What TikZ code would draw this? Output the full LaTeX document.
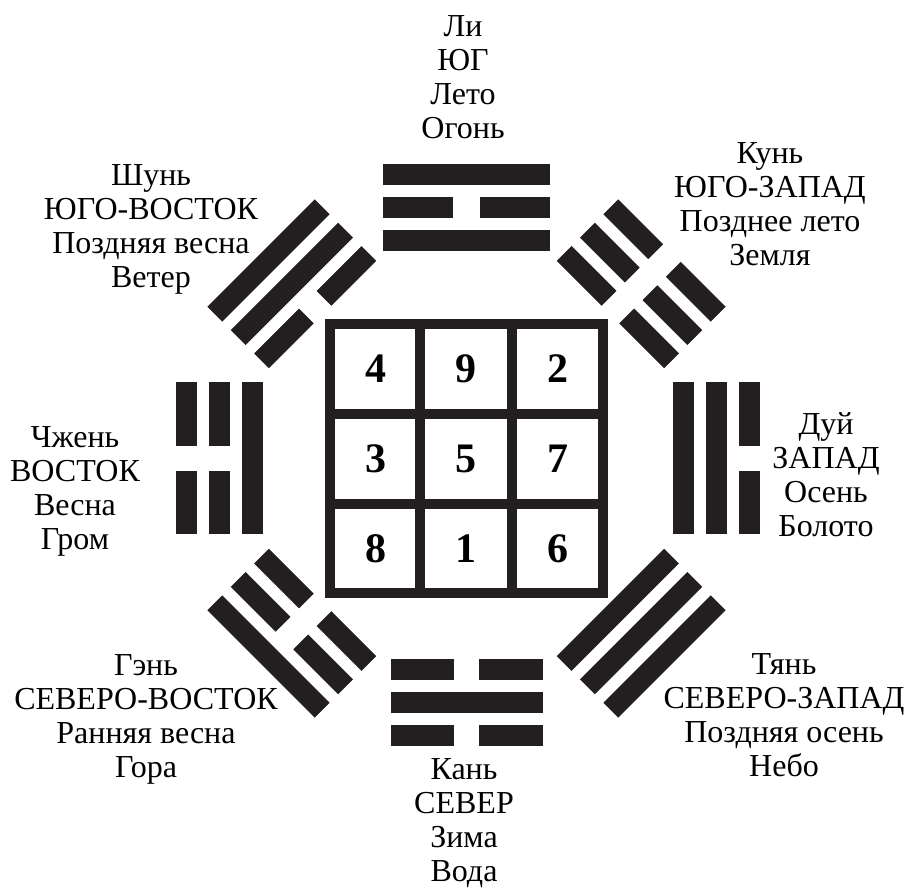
\documentclass[tikz,border=0pt]{standalone}
\usepackage{fontspec}
\setmainfont{Liberation Serif}
\usepackage{tikz}
\definecolor{ink}{HTML}{231F20}

% one trigram: angle, inner radius, length, gap, lines from inside out (1 solid, 0 broken)
\newcommand{\gua}[5]{%
\begin{scope}[shift={(466.5,435.5)},rotate=#1]
\foreach \bit [count=\idx from 0] in {#5}{
  \pgfmathsetmacro{\rad}{#2+33*\idx}
  \ifnum\bit=1
    \fill[ink] (-#3/2,\rad-10.5) rectangle (#3/2,\rad+10.5);
  \else
    \fill[ink] (-#3/2,\rad-10.5) rectangle (-#4/2,\rad+10.5);
    \fill[ink] (#4/2,\rad-10.5) rectangle (#3/2,\rad+10.5);
  \fi
}
\end{scope}}

\begin{document}
\begin{tikzpicture}[x=1pt,y=1pt,
  label/.style={align=center,anchor=base,inner sep=0pt,font=\fontsize{32}{34}\selectfont},
  digit/.style={inner sep=0pt,font=\fontsize{42}{42}\selectfont\bfseries}]
\useasboundingbox (0,0) rectangle (905,894);

% lo shu square
\draw[ink,line width=10pt] (330,301) rectangle (603,570);
\draw[ink,line width=10pt] (420,301) -- (420,570);
\draw[ink,line width=10pt] (512,301) -- (512,570);
\draw[ink,line width=10pt] (330,480) -- (603,480);
\draw[ink,line width=10pt] (330,390) -- (603,390);

\node[digit] (n4) at (376,525) {4};
\node[digit] (n9) at (466,525) {9};
\node[digit] (n2) at (558,525) {2};
\node[digit] (n3) at (376,435) {3};
\node[digit] (n5) at (466,435) {5};
\node[digit] (n7) at (558,435) {7};
\node[digit] (n8) at (376,345) {8};
\node[digit] (n1) at (466,345) {1};
\node[digit] (n6) at (558,345) {6};

% trigrams
\gua{0}{218}{167}{27}{1,0,1}
\gua{-45}{214}{152}{25}{0,0,0}
\gua{-90}{217}{152}{25}{1,1,0}
\gua{-135}{214}{152}{25}{1,1,1}
\gua{180}{211}{152}{25}{0,1,0}
\gua{135}{214}{152}{25}{0,0,1}
\gua{90}{214}{152}{25}{1,0,0}
\gua{45}{214}{152}{25}{0,1,1}

% labels (anchored at the baseline of the last line)
\node[label] (li) at (463,755) {Ли\\ЮГ\\Лето\\Огонь};
\node[label] (kun) at (770,628) {Кунь\\ЮГО-ЗАПАД\\Позднее лето\\Земля};
\node[label] (dui) at (826,357) {Дуй\\ЗАПАД\\Осень\\Болото};
\node[label] (tian) at (784,117) {Тянь\\СЕВЕРО-ЗАПАД\\Поздняя осень\\Небо};
\node[label] (kan) at (464,12) {Кань\\СЕВЕР\\Зима\\Вода};
\node[label] (gen) at (146,116) {Гэнь\\СЕВЕРО-ВОСТОК\\Ранняя весна\\Гора};
\node[label] (zhen) at (75,344) {Чжень\\ВОСТОК\\Весна\\Гром};
\node[label] (xun) at (151,606) {Шунь\\ЮГО-ВОСТОК\\Поздняя весна\\Ветер};
\end{tikzpicture}
\end{document}
